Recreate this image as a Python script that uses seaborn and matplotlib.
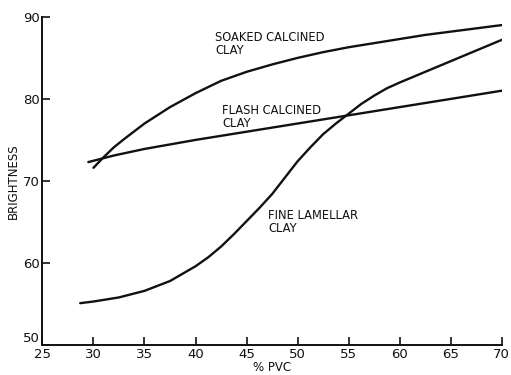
import matplotlib
matplotlib.use("Agg")
import matplotlib.pyplot as plt
import seaborn as sns
import pandas as pd

# Brightness vs pigment volume concentration for three clay extenders
soaked_pvc = [30, 31, 32, 33, 35, 37.5, 40, 42.5, 45, 47.5, 50, 52.5, 55, 57.5, 60, 62.5, 65, 67.5, 70]
soaked_brightness = [71.6, 72.9, 74.1, 75.1, 77.0, 79.0, 80.7, 82.2, 83.3, 84.2, 85.0, 85.7, 86.3, 86.8, 87.3, 87.8, 88.2, 88.6, 89.0]

flash_pvc = [29.5, 32, 35, 40, 45, 50, 55, 60, 65, 70]
flash_brightness = [72.3, 73.1, 73.9, 75.0, 76.0, 77.0, 78.0, 79.0, 80.0, 81.0]

fine_pvc = [28.7, 30, 32.5, 35, 37.5, 40, 41.25, 42.5, 43.75, 45, 46.25, 47.5, 48.75, 50, 51.25,
            52.5, 53.75, 55, 56.25, 57.5, 58.75, 60, 62.5, 65, 67.5, 70]
fine_brightness = [55.1, 55.3, 55.8, 56.6, 57.8, 59.6, 60.7, 62.0, 63.5, 65.1, 66.7, 68.4, 70.4, 72.4, 74.1,
                   75.7, 77.0, 78.2, 79.4, 80.4, 81.3, 82.0, 83.3, 84.6, 85.9, 87.2]

x_ticks = [25, 30, 35, 40, 45, 50, 55, 60, 65, 70]
y_ticks = [50, 60, 70, 80, 90]

sns.set_style("ticks")
plt.rcParams["font.family"] = ["DejaVu Sans"]

fig = plt.figure(figsize=(5.11, 3.75), dpi=100)
ax = fig.add_axes([0.083, 0.08, 0.899, 0.875])

ink = "#111111"
for xs, ys in [(soaked_pvc, soaked_brightness), (flash_pvc, flash_brightness), (fine_pvc, fine_brightness)]:
    df = pd.DataFrame({"pvc": xs, "brightness": ys})
    sns.lineplot(data=df, x="pvc", y="brightness", ax=ax, color=ink, linewidth=1.7, sort=True)

ax.set_xlim(25, 70)
ax.set_ylim(50, 90)
ax.set_xticks(x_ticks)
ax.set_yticks(y_ticks)
ax.tick_params(direction="in", length=6, width=1.2, colors=ink, labelsize=9.5, pad=2)
# lift the bottom y label so it clears the first x label
ax.yaxis.get_major_ticks()[0].label1.set_verticalalignment("bottom")
for side in ["top", "right"]:
    ax.spines[side].set_visible(False)
for side in ["left", "bottom"]:
    ax.spines[side].set_linewidth(1.4)
    ax.spines[side].set_color(ink)

ax.set_xlabel("% PVC", fontsize=8.5, color=ink, labelpad=0)
ax.set_ylabel("BRIGHTNESS", fontsize=8.5, color=ink, labelpad=2)

label_kw = dict(fontsize=8.3, color=ink, va="top", ha="left", linespacing=1.0)
ax.text(41.9, 88.3, "SOAKED CALCINED\nCLAY", **label_kw)
ax.text(42.6, 79.4, "FLASH CALCINED\nCLAY", **label_kw)
ax.text(47.1, 66.6, "FINE LAMELLAR\nCLAY", **label_kw)

fig.savefig("out.png", dpi=100, facecolor="white")
